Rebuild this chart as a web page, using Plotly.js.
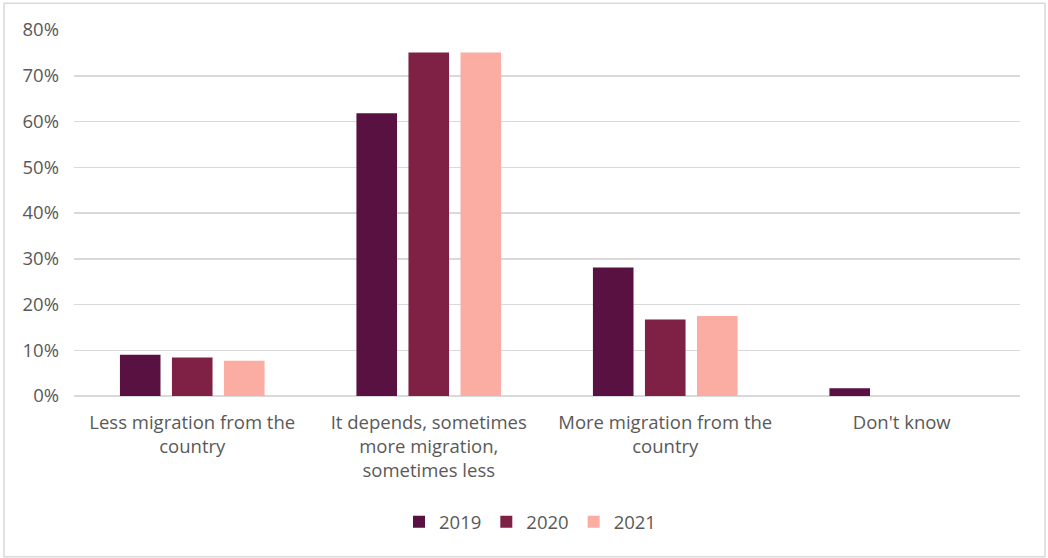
<!DOCTYPE html>
<html>
<head>
<meta charset="utf-8">
<script src="https://cdn.plot.ly/plotly-3.0.1.min.js"></script>
<style>
  html, body { margin: 0; padding: 0; background: #ffffff; }
  #chart { width: 1048px; height: 558px; }
</style>
</head>
<body>
<div id="chart"></div>
<script>
// Survey answers, shares of respondents per year
const categories = [
  "Less migration from the<br>country",
  "It depends, sometimes<br>more migration,<br>sometimes less",
  "More migration from the<br>country",
  "Don't know"
];
const values2019 = [0.090, 0.618, 0.281, 0.017];
const values2020 = [0.084, 0.751, 0.167, 0.0];
const values2021 = [0.077, 0.751, 0.175, 0.0];
const seriesNames = ["2019", "2020", "2021"];
const yTickValues = [0, 0.1, 0.2, 0.3, 0.4, 0.5, 0.6, 0.7, 0.8];

const colors = ["#591142", "#7f2045", "#fbada3"];
const seriesValues = [values2019, values2020, values2021];

const traces = seriesValues.map((vals, i) => ({
  type: "bar",
  name: seriesNames[i],
  x: categories,
  y: vals,
  marker: { color: colors[i], line: { width: 0 } },
  hoverinfo: "skip"
}));

const font = { family: "'Open Sans', Lato, sans-serif", size: 18.5, color: "#595959" };

const layout = {
  width: 1048,
  height: 558,
  margin: { l: 74, r: 28, t: 29.7, b: 162.3 },
  paper_bgcolor: "#ffffff",
  plot_bgcolor: "#ffffff",
  font: font,
  barmode: "group",
  bargap: 0.34,
  bargroupgap: 0.22,
  showlegend: true,
  legend: {
    orientation: "h",
    x: (530 - 74) / 946, xanchor: "center",
    y: -0.345, yanchor: "middle",
    font: font,
    itemwidth: 30,
    tracegroupgap: 0
  },
  xaxis: {
    type: "category",
    showgrid: false,
    showline: false,
    zeroline: false,
    ticks: "",
    ticklabelstandoff: 13,
    tickfont: font,
    fixedrange: true
  },
  yaxis: {
    range: [0, 0.8],
    tickvals: yTickValues,
    tickformat: ".0%",
    showgrid: true,
    gridcolor: "#d9d9d9",
    gridwidth: 1.5,
    zeroline: true,
    zerolinecolor: "#d9d9d9",
    zerolinewidth: 1.5,
    showline: false,
    ticks: "",
    ticklabelstandoff: 14,
    tickfont: font,
    fixedrange: true
  },
  shapes: [{
    type: "rect",
    xref: "paper", yref: "paper",
    x0: (4 - 74) / 946, x1: (1045 - 74) / 946,
    y0: -(556.5 - 395.7) / 366, y1: (395.7 - 3) / 366,
    line: { color: "#d9d9d9", width: 1.5 },
    fillcolor: "rgba(0,0,0,0)",
    layer: "below"
  }]
};

Plotly.newPlot("chart", traces, layout, { staticPlot: true, displayModeBar: false });
</script>
</body>
</html>
